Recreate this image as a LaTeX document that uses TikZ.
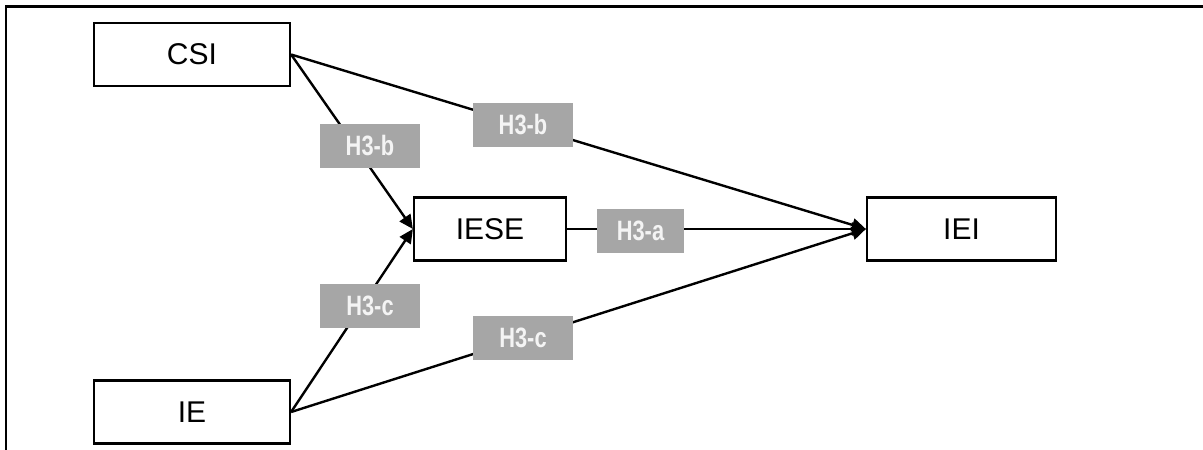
\documentclass[tikz,border=0pt]{standalone}
\usepackage{fontspec}
\setmainfont{Liberation Sans}
\newfontfamily\narrowfont[FakeStretch=0.78]{Liberation Sans Bold}
\usetikzlibrary{arrows.meta}
\definecolor{lblgray}{HTML}{A6A6A6}
\definecolor{lbltext}{HTML}{F4F4F4}
\tikzset{
  varbox/.style={draw=black, line width=2.2pt, minimum width=#1, minimum height=63pt, inner sep=0pt, font=\fontsize{30}{30}\selectfont},
  hyplabel/.style={fill=lblgray, text=lbltext, minimum width=#1, minimum height=44pt, inner sep=0pt, font=\narrowfont\fontsize{28}{28}\selectfont},
  link/.style={line width=2.4pt, draw=black},
  arr/.style={link, -{Triangle[length=14pt,width=13pt]}}
}
\begin{document}
\begin{tikzpicture}[x=1pt,y=-1pt]
\useasboundingbox (0,0) rectangle (1203,450);
\draw[line width=2.2pt] (6,450) -- (6,6.5) -- (1203,6.5);
\node[varbox=196pt] (csi) at (192,54.5) {CSI};
\node[varbox=196pt] (ie) at (192,412) {IE};
\node[varbox=152pt] (iese) at (490,229) {IESE};
\node[varbox=189pt] (iei) at (961.5,229) {IEI};
\draw[arr] (csi.east) -- (iese.west);
\draw[arr] (ie.east) -- (iese.west);
\draw[arr] (csi.east) -- (iei.west);
\draw[arr] (ie.east) -- (iei.west);
\draw[arr] (iese.east) -- (iei.west);
\node[hyplabel=100pt] (lb1) at (370,146) {H3-b};
\node[hyplabel=100pt] (lb2) at (523,125) {H3-b};
\node[hyplabel=100pt] (lc1) at (370,306) {H3-c};
\node[hyplabel=100pt] (lc2) at (523,338) {H3-c};
\node[hyplabel=87pt] (la) at (640.5,231) {H3-a};
\end{tikzpicture}
\end{document}
